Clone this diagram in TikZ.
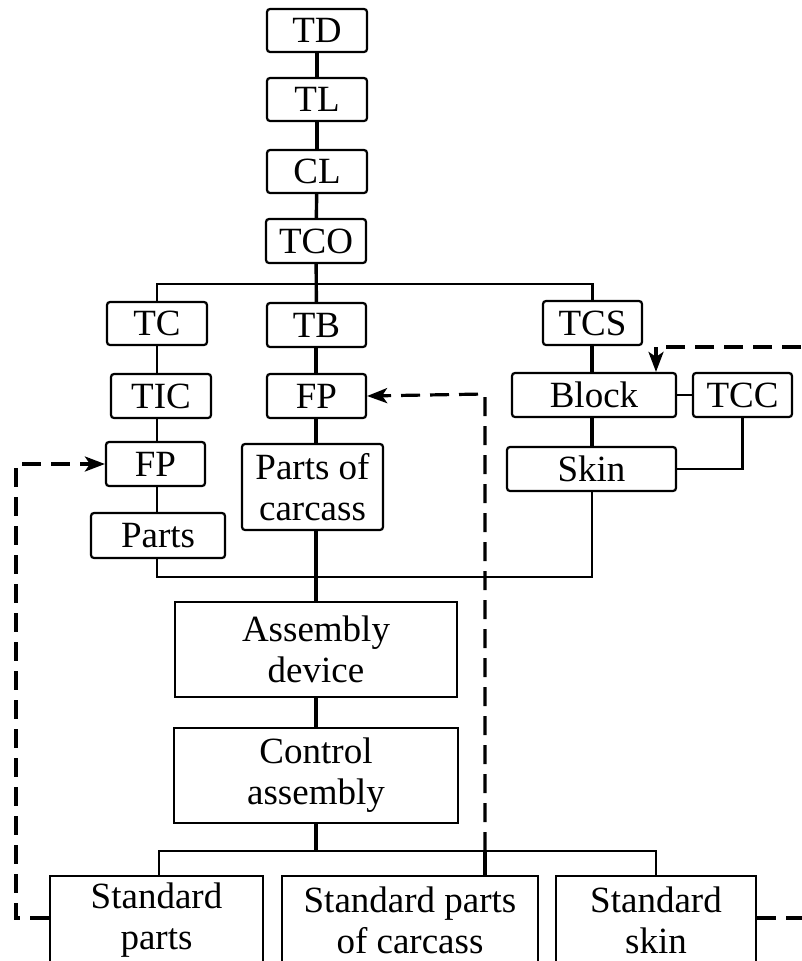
\documentclass[tikz,border=0pt]{standalone}
\usepackage{fontspec}
\setmainfont{Liberation Serif}
\usetikzlibrary{arrows.meta,calc}
\begin{document}
\begin{tikzpicture}[x=1pt,y=-1pt,
  font=\fontsize{37}{41}\selectfont,
  rbox/.style={draw,line width=2.2pt,rounded corners=3pt,inner sep=0pt,align=center},
  sbox/.style={draw,line width=2.2pt,inner sep=0pt,align=center},
  thk/.style={line width=3.4pt},
  thn/.style={line width=2.2pt},
  dsh/.style={line width=3.2pt,dash pattern=on 19pt off 10pt},
  arrowtip/.style={arrows={-Stealth[length=20pt,width=15pt,inset=5pt]}}
]
\useasboundingbox (0,0) rectangle (802,961);
\clip (0,0) rectangle (802,961);
\fill[white] (0,0) rectangle (802,961);
% column coordinates
\coordinate (colL) at (157,0);
\coordinate (colM) at (316,0);
\coordinate (colR) at (592,0);
% top chain
\node[rbox,minimum width=100pt,minimum height=43pt] (TD) at (317,30.5) {TD};
\node[rbox,minimum width=100pt,minimum height=43pt] (TL) at (317,99.5) {TL};
\node[rbox,minimum width=100pt,minimum height=43pt] (CL) at (317,171.5) {CL};
\node[rbox,minimum width=100pt,minimum height=44pt] (TCO) at (316,241) {TCO};
% second level
\node[rbox,minimum width=100pt,minimum height=43pt] (TC) at (157,323.5) {TC};
\node[rbox,minimum width=99pt,minimum height=44pt] (TB) at (316.5,325) {TB};
\node[rbox,minimum width=99pt,minimum height=44pt] (TCS) at (592.5,323) {TCS};
% left column
\node[rbox,minimum width=100pt,minimum height=44pt] (TIC) at (161,396) {TIC};
\node[rbox,minimum width=99pt,minimum height=44pt] (FPL) at (155.5,464) {FP};
\node[rbox,minimum width=134pt,minimum height=45pt] (Parts) at (158,535.5) {Parts};
% middle column
\node[rbox,minimum width=99pt,minimum height=44pt] (FPM) at (316.5,396) {FP};
\node[rbox,minimum width=141pt,minimum height=86pt] (POC) at (312.5,487) {Parts of\\carcass};
% right column
\node[rbox,minimum width=164pt,minimum height=44pt] (Block) at (594,395) {Block};
\node[rbox,minimum width=99pt,minimum height=44pt] (TCC) at (742.5,395) {TCC};
\node[rbox,minimum width=169pt,minimum height=44pt] (Skin) at (591.5,469) {Skin};
% assembly
\node[sbox,minimum width=282pt,minimum height=95pt] (AD) at (316,649.5) {Assembly\\device};
\node[sbox,minimum width=284pt,minimum height=95pt] (CA) at (316,775.5) {Control\\assembly};
% bottom
\node[sbox,minimum width=213pt,minimum height=88pt] (SP) at (156.5,920) {Standard\\parts};
\node[sbox,minimum width=256pt,minimum height=88pt] (SPC) at (410,920) {Standard parts\\of carcass};
\node[sbox,minimum width=200pt,minimum height=88pt] (SS) at (656,920) {Standard\\skin};
% bus coordinates
\coordinate (bus1) at (316,284);
\coordinate (bus2) at (316,577);
\coordinate (bus3) at (316,851);
\coordinate (bus3c) at (485,851);
% solid connectors
\draw[thk] (TD) -- (TL);
\draw[thk] (TL) -- (CL);
\draw[thk] (CL) -- (TCO);
\draw[thk] (TCO) -- (TB);
\draw[thn] (colL |- TC.north) |- (bus1) -| (TCS.north);
\draw[thn] (colL |- TC.south) -- (colL |- TIC.north);
\draw[thn] (colL |- TIC.south) -- (colL |- FPL.north);
\draw[thn] (colL |- FPL.south) -- (colL |- Parts.north);
\draw[thk] (colM |- TB.south) -- (colM |- FPM.north);
\draw[thk] (colM |- FPM.south) -- (colM |- POC.north);
\draw[thk] (colM |- POC.south) -- (colM |- AD.north);
\draw[thk] (colR |- TCS.south) -- (colR |- Block.north);
\draw[thk] (colR |- Block.south) -- (colR |- Skin.north);
\draw[thn] (Block.east) -- (TCC.west);
\draw[thn] (TCC.south) |- (Skin.east);
\draw[thn] (colL |- Parts.south) |- (bus2) -| (colR |- Skin.south);
\draw[thk] (AD) -- (CA);
\draw[thk] (CA.south) -- (bus3);
\draw[thn] (SP.north -| 159,0) |- (bus3) -| (SS.north);
\draw[thk] (bus3c) -- (bus3c |- SPC.north);
% dashed connectors
\coordinate (lc) at (16,918);
\draw[dsh,arrowtip] (SP.west |- lc) -- (lc) |- (FPL.west);
\coordinate (mc) at (485,394);
\draw[dsh,arrowtip] (bus3c) -- (mc) -- (FPM.east);
\coordinate (rc) at (830,347);
\coordinate (bt) at (656,347);
\draw[dsh,arrowtip] (rc) -- (bt) -- (bt |- Block.north);
\coordinate (rb) at (830,918);
\draw[dsh] (SS.east |- rb) -- (rb);
\end{tikzpicture}
\end{document}
